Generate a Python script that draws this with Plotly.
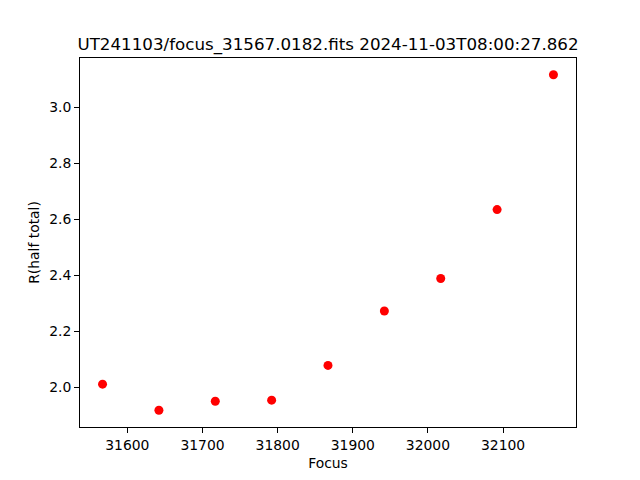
import plotly.graph_objects as go

focus = [31567, 31642, 31717, 31792, 31867, 31942, 32017, 32092, 32167]
r_half_total = [2.011, 1.918, 1.950, 1.954, 2.078, 2.272, 2.388, 2.634, 3.115]
x_ticks = [31600, 31700, 31800, 31900, 32000, 32100]
y_ticks = [2.0, 2.2, 2.4, 2.6, 2.8, 3.0]
title_text = "UT241103/focus_31567.0182.fits 2024-11-03T08:00:27.862"

fig = go.Figure()
fig.add_trace(go.Scatter(
    x=focus, y=r_half_total, mode="markers",
    marker=dict(color="#ff0000", size=9, line=dict(width=0)),
    showlegend=False,
))

font = "DejaVu Sans"
axis_common = dict(
    showgrid=False, zeroline=False, showline=True, linecolor="black", linewidth=1,
    mirror=True, ticks="outside", ticklen=5, tickwidth=1, tickcolor="black",
    tickfont=dict(family=font, size=13.9, color="black"),
)

x_min, x_max = min(focus), max(focus)
y_min, y_max = min(r_half_total), max(r_half_total)
xm = (x_max - x_min) * 0.05
ym = (y_max - y_min) * 0.05

# page has an 8px body margin; figure is sized to fill the remaining window
W, H = 632, 472
fig.update_layout(
    width=W, height=H,
    margin=dict(l=72, r=64, t=49.6, b=52.8, pad=0),
    paper_bgcolor="white", plot_bgcolor="white",
    title=dict(text=title_text, x=0.5, xanchor="center", y=1 - 42 / H, yanchor="bottom",
               xref="paper", font=dict(family=font, size=16.7, color="black")),
    xaxis=dict(axis_common, range=[x_min - xm, x_max + xm], tickvals=x_ticks,
               ticktext=[str(v) for v in x_ticks],
               title=dict(text="Focus", font=dict(family=font, size=13.9, color="black"), standoff=6)),
    yaxis=dict(axis_common, range=[y_min - ym, y_max + ym], tickvals=y_ticks,
               ticktext=[f"{v:.1f}" for v in y_ticks],
               title=dict(text="R(half total)", font=dict(family=font, size=13.9, color="black"), standoff=6)),
)

fig.write_html("out.html")
